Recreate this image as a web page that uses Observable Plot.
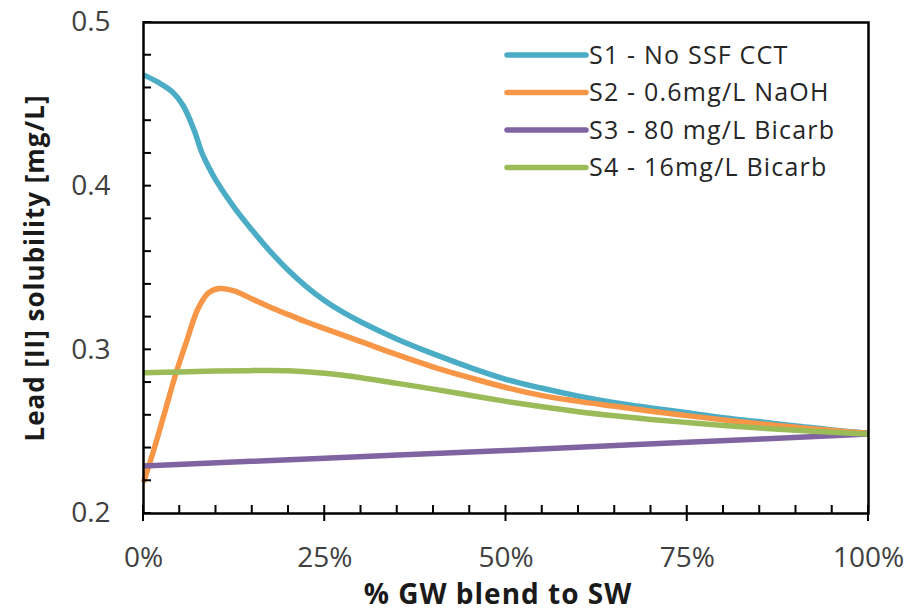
<!DOCTYPE html>
<html>
<head>
<meta charset="utf-8">
<script src="https://cdn.jsdelivr.net/npm/d3@7"></script>
<script src="https://cdn.jsdelivr.net/npm/@observablehq/plot@0.6"></script>
<style>
  html, body { margin: 0; padding: 0; background: #fff; }
  #chart svg { display: block; }
</style>
</head>
<body>
<div id="chart"></div>
<script>
// Lead solubility vs. groundwater blend fraction, four corrosion-control scenarios
const seriesNames = ["S1 - No SSF CCT", "S2 - 0.6mg/L NaOH", "S3 - 80 mg/L Bicarb", "S4 - 16mg/L Bicarb"];
const seriesColors = ["#4BACC6", "#F79646", "#8064A2", "#9BBB59"];

// % GW blend and lead solubility (mg/L) per scenario
const s1Blend = [0, 2, 4, 5.5, 7, 8, 9, 10, 12.5, 15, 17.5, 20, 22.5, 25, 27.5, 30, 35, 40, 45, 50, 55, 60, 65, 70, 75, 80, 85, 90, 95, 100];
const s1Pb    = [0.468, 0.4635, 0.4575, 0.449, 0.434, 0.421, 0.4115, 0.4035, 0.387, 0.373, 0.360, 0.3485, 0.3385, 0.330, 0.323, 0.317, 0.3065, 0.2975, 0.2893, 0.282, 0.2765, 0.2717, 0.2677, 0.2645, 0.2615, 0.2585, 0.256, 0.2535, 0.251, 0.249];

const s2Blend = [0, 1.5, 3, 4.5, 6, 7.5, 9, 10.5, 12.5, 15, 17.5, 20, 22.5, 25, 30, 35, 40, 45, 50, 55, 60, 65, 70, 75, 80, 85, 90, 95, 100];
const s2Pb    = [0.219, 0.240, 0.263, 0.286, 0.306, 0.325, 0.335, 0.3375, 0.336, 0.331, 0.326, 0.3215, 0.317, 0.313, 0.305, 0.297, 0.2895, 0.283, 0.277, 0.272, 0.2685, 0.2655, 0.2625, 0.2598, 0.2572, 0.2548, 0.2527, 0.2507, 0.249];

const s3Blend = [0, 25, 50, 75, 100];
const s3Pb    = [0.229, 0.2338, 0.2385, 0.2435, 0.2485];

const s4Blend = [0, 5, 10, 15, 20, 25, 30, 35, 40, 45, 50, 55, 60, 65, 70, 75, 80, 85, 90, 95, 100];
const s4Pb    = [0.286, 0.2865, 0.287, 0.2873, 0.2872, 0.2857, 0.283, 0.2795, 0.276, 0.2722, 0.2685, 0.2652, 0.2622, 0.2597, 0.2575, 0.2556, 0.2538, 0.2522, 0.2508, 0.2496, 0.2485];

// Axis ticks
const xTicks = [0, 25, 50, 75, 100];
const xMinorTicks = [5, 10, 15, 20, 30, 35, 40, 45, 55, 60, 65, 70, 80, 85, 90, 95];
const yTicks = [0.2, 0.3, 0.4, 0.5];
const yMinorTicks = [0.22, 0.24, 0.26, 0.28, 0.32, 0.34, 0.36, 0.38, 0.42, 0.44, 0.46, 0.48];

const xTitle = "% GW blend to SW";
const yTitle = "Lead [II] solubility [mg/L]";

// Long-format table for the line mark
const series = [[s1Blend, s1Pb], [s2Blend, s2Pb], [s3Blend, s3Pb], [s4Blend, s4Pb]];
const rows = series.flatMap(([xs, ys], i) => xs.map((x, j) => ({series: seriesNames[i], blend: x, pb: ys[j]})));

const W = 913, H = 613;
const mL = 143, mR = 45, mT = 22, mB = 100;
const font = "'Open Sans', 'Liberation Sans', sans-serif";

// Inward tick marks: a fixed pixel length drawn from the axis line into the frame
function tickMarks(index, scales) {
  const g = d3.create("svg:g").attr("stroke", "#000").attr("stroke-width", 2);
  const x0 = scales.x(0), y0 = scales.y(0.2);
  for (const v of [...yTicks, ...yMinorTicks]) {
    g.append("line").attr("x1", x0).attr("x2", x0 + 8).attr("y1", scales.y(v)).attr("y2", scales.y(v));
  }
  for (const v of xMinorTicks) {
    g.append("line").attr("x1", scales.x(v)).attr("x2", scales.x(v)).attr("y1", y0).attr("y2", y0 - 8);
  }
  for (const v of xTicks) {
    g.append("line").attr("x1", scales.x(v)).attr("x2", scales.x(v)).attr("y1", y0 + 8).attr("y2", y0 - 8);
  }
  return g.node();
}

// Line legend in the upper right of the frame
function legendMark() {
  const g = d3.create("svg:g")
    .attr("font-family", font).attr("font-size", 25)
    .attr("letter-spacing", "1.2px").attr("text-anchor", "start");
  seriesNames.forEach((name, i) => {
    const y = 55 + i * 37.5;
    g.append("line").attr("x1", 507).attr("x2", 586).attr("y1", y).attr("y2", y)
      .attr("stroke", seriesColors[i]).attr("stroke-width", 5.5).attr("stroke-linecap", "round");
    g.append("text").attr("x", 589).attr("y", y).attr("dy", "0.35em").attr("fill", "#262626").text(name);
  });
  return g.node();
}

const chart = Plot.plot({
  width: W, height: H,
  marginLeft: mL, marginRight: mR, marginTop: mT, marginBottom: mB,
  style: {fontFamily: font, fontSize: "28px", color: "#404040", background: "#fff"},
  x: {domain: [0, 100]},
  y: {domain: [0.2, 0.5]},
  color: {domain: seriesNames, range: seriesColors},
  marks: [
    Plot.axisX(xTicks, {tickSize: 0, tickPadding: 34, tickFormat: d => d + "%", label: null, fontSize: 28}),
    Plot.axisY(yTicks, {tickSize: 0, tickPadding: 33, tickFormat: d3.format(".1f"), label: null, fontSize: 28}),
    Plot.line(rows, {x: "blend", y: "pb", z: "series", stroke: "series", strokeWidth: 5.5, curve: "catmull-rom", strokeLinecap: "butt"}),
    Plot.frame({stroke: "#000", strokeWidth: 2.5}),
    tickMarks,
    Plot.text([yTitle], {frameAnchor: "left", textAnchor: "middle", rotate: -90, dx: -108, fontWeight: "bold", fontSize: 26, fill: "#1a1a1a", text: d => d}),
    Plot.text([xTitle], {frameAnchor: "bottom", textAnchor: "middle", dx: -8, dy: 90, fontWeight: "bold", fontSize: 28, fill: "#1a1a1a", text: d => d}),
    legendMark
  ]
});

d3.select(chart).selectAll("g[aria-label='text'] text").attr("letter-spacing", "1px");
document.getElementById("chart").append(chart);
</script>
</body>
</html>
